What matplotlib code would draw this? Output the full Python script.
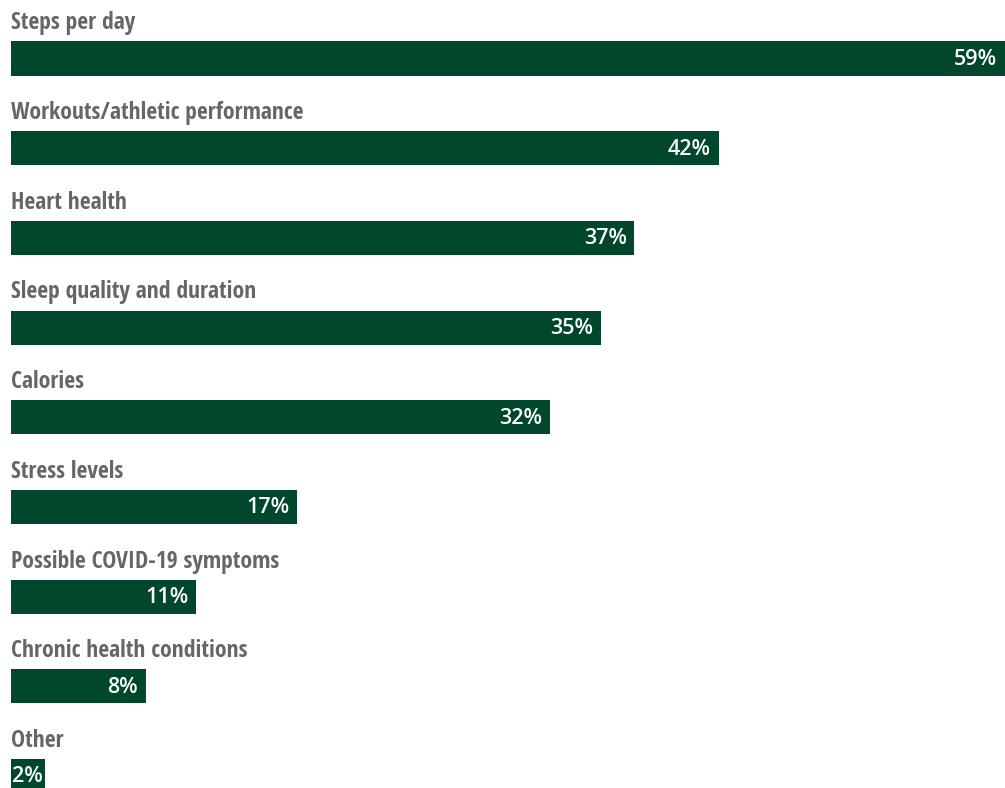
import matplotlib.pyplot as plt
from matplotlib import font_manager

categories = ['Steps per day', 'Workouts/athletic performance', 'Heart health',
              'Sleep quality and duration', 'Calories', 'Stress levels',
              'Possible COVID-19 symptoms', 'Chronic health conditions', 'Other']
values = [59, 42, 37, 35, 32, 17, 11, 8, 2]

BAR_COLOR = '#00472b'
LABEL_COLOR = '#63666a'

# the labels use a condensed bold face; take the closest one that is installed
names = {f.name for f in font_manager.fontManager.ttflist}
label_font = 'Open Sans'
for cand in ['Open Sans Condensed', 'Open Sans Condensed Bold', 'Fira Sans Condensed',
             'Asap Condensed', 'Encode Sans Condensed']:
    if cand in names:
        label_font = cand
        break

fig = plt.figure(figsize=(10.05, 7.88), dpi=100)
ax = fig.add_axes([11 / 1005, 0, 1 - 11 / 1005, 1])

ys = list(range(len(categories)))
ax.barh(ys, values, height=0.38, color=BAR_COLOR)

for y, cat, v in zip(ys, categories, values):
    ax.text(0, y - 0.325, cat, ha='left', va='baseline', fontsize=17,
            fontweight='bold', color=LABEL_COLOR, family=[label_font, 'DejaVu Sans'])
    if v < 4:
        # too short for the label to sit inside, start it at the bar's left edge
        ax.text(0.05, y + 0.01, '{}%'.format(v), ha='left', va='center',
                fontsize=15.5, fontweight='semibold', color='white',
                family=['Open Sans', 'DejaVu Sans'])
    else:
        ax.text(v - 0.45, y + 0.01, '{}%'.format(v), ha='right', va='center',
                fontsize=15.5, fontweight='semibold', color='white',
                family=['Open Sans', 'DejaVu Sans'])

ax.set_xlim(0, 59)
ax.set_ylim(8.133, -0.652)
ax.axis('off')

fig.savefig('out.png', dpi=100)
